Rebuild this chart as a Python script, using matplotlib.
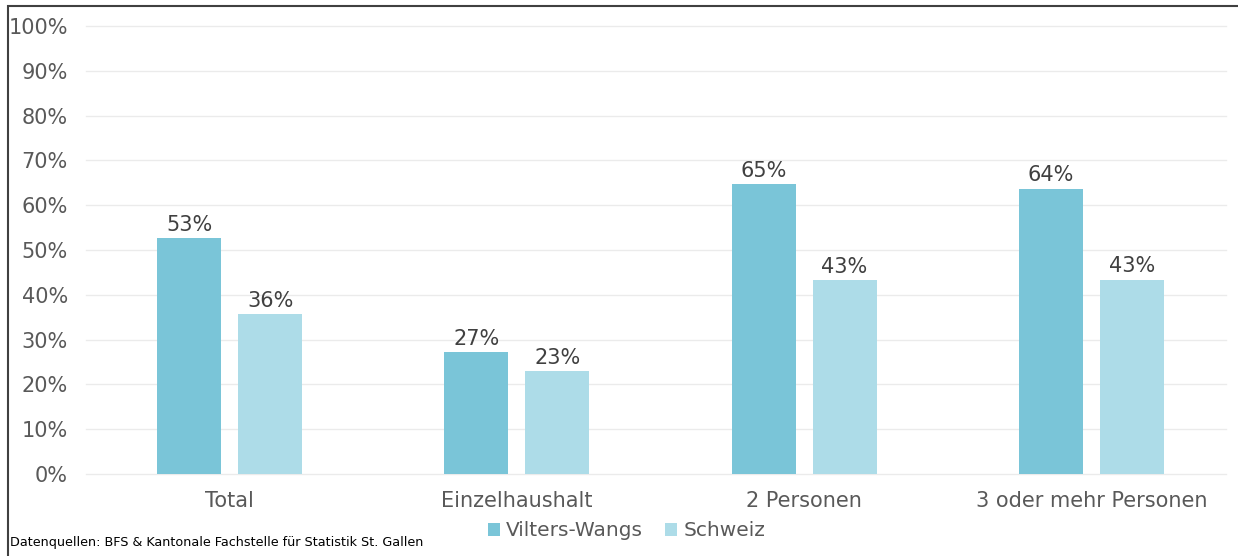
import numpy as np
import matplotlib
matplotlib.use("Agg")
import matplotlib.pyplot as plt
from matplotlib.patches import Rectangle

# Data
categories = ["Total", "Einzelhaushalt", "2 Personen", "3 oder mehr Personen"]
vilters_wangs = [52.6, 27.2, 64.7, 63.6]
schweiz = [35.6, 22.9, 43.2, 43.3]
series_names = ["Vilters-Wangs", "Schweiz"]

col_vw = "#7AC5D8"
col_ch = "#ADDCE8"
txt_col = "#595959"

fig = plt.figure(figsize=(12.38, 5.56), dpi=100)
ax = fig.add_axes([0.0695, 0.1475, 0.928, 0.8058])

x = np.arange(len(categories))
w = 0.223
off = 0.141
b1 = ax.bar(x - off, vilters_wangs, w, color=col_vw, label=series_names[0], zorder=2)
b2 = ax.bar(x + off, schweiz, w, color=col_ch, label=series_names[1], zorder=2)

for bars, vals in ((b1, vilters_wangs), (b2, schweiz)):
    for r, v in zip(bars, vals):
        ax.text(r.get_x() + r.get_width() / 2, v + 0.8, "{:.0f}%".format(v),
                ha="center", va="bottom", fontsize=15, color="#404040")

ax.set_xlim(-0.5, len(categories) - 0.5)
ax.set_ylim(0, 100)
ax.set_yticks(np.arange(0, 101, 10))
ax.set_yticklabels(["{}%".format(t) for t in range(0, 101, 10)])
ax.set_xticks(x)
ax.set_xticklabels(categories)
ax.tick_params(axis="both", length=0, labelsize=15, colors=txt_col)
ax.tick_params(axis="y", pad=13)
ax.tick_params(axis="x", pad=12)
for t in np.arange(0, 101, 10):
    ax.plot([-0.5, 3.47], [t, t], color="#EBEBEB", linewidth=1, zorder=0, clip_on=False)
for s in ax.spines.values():
    s.set_visible(False)

leg = fig.legend(handles=[b1, b2], loc="center", bbox_to_anchor=(0.506, 0.045),
                 ncol=2, frameon=False, fontsize=14.5, handlelength=0.6,
                 handleheight=0.6, handletextpad=0.3, columnspacing=1.1)
for t in leg.get_texts():
    t.set_color(txt_col)

fig.text(0.008, 0.012, "Datenquellen: BFS & Kantonale Fachstelle für Statistik St. Gallen",
         fontsize=9.2, color="black", ha="left", va="bottom")

# outer frame (left and top edge visible)
fig.patches.append(Rectangle((0.0065, -0.05), 1.05, 0.94 + 0.099, transform=fig.transFigure,
                             fill=False, edgecolor="#404040", linewidth=1.5))

fig.savefig("out.png", dpi=100)
